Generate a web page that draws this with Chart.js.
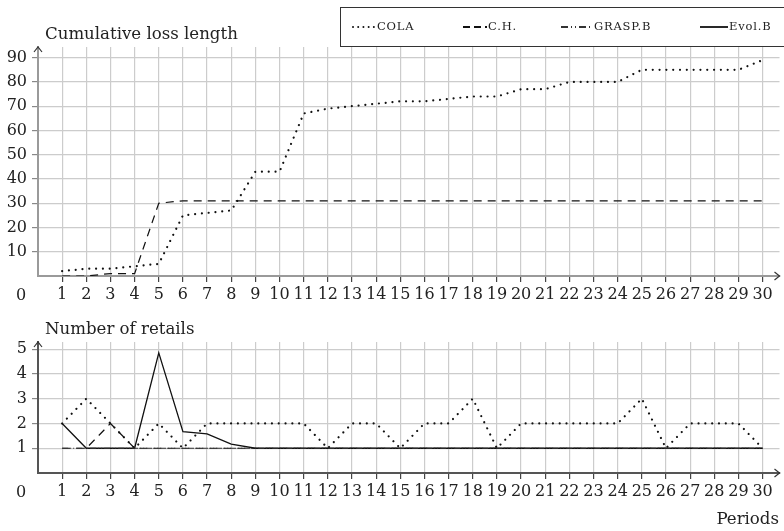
<!DOCTYPE html>
<html>
<head>
<meta charset="utf-8">
<script src="https://cdn.jsdelivr.net/npm/chart.js@4/dist/chart.umd.min.js"></script>
<style>
  body { margin: 0; background: #fff; }
  #top, #bottom { position: absolute; left: 0; width: 784px; }
  #top { top: 0; height: 310px; }
  #bottom { top: 310px; height: 221px; }
</style>
</head>
<body>
<div id="top"><canvas id="lossChart" width="784" height="310"></canvas></div>
<div id="bottom"><canvas id="retailChart" width="784" height="221"></canvas></div>
<script>
// --- data ---
const periods = [1,2,3,4,5,6,7,8,9,10,11,12,13,14,15,16,17,18,19,20,21,22,23,24,25,26,27,28,29,30];
const seriesNames = ["COLA", "C.H.", "GRASP.B", "Evol.B"];

const colaLoss = [2,3,3,4,5,25,26,27,43,43,67,69,70,71,72,72,73,74,74,77,77,80,80,80,85,85,85,85,85,89];
const chLoss   = [0,0,1,1,30,31,31,31,31,31,31,31,31,31,31,31,31,31,31,31,31,31,31,31,31,31,31,31,31,31];

const colaRetails  = [2,3,2,1,2,1,2,2,2,2,2,1,2,2,1,2,2,3,1,2,2,2,2,2,3,1,2,2,2,1];
const chRetails    = [1,1,2,1,1,1,1,1,1,1,1,1,1,1,1,1,1,1,1,1,1,1,1,1,1,1,1,1,1,1];
const graspRetails = [1,1,1,1,1,1,1,1,1,1,1,1,1,1,1,1,1,1,1,1,1,1,1,1,1,1,1,1,1,1];
const evolRetails  = [2,1,1,1,4.85,1.67,1.58,1.17,1,1,1,1,1,1,1,1,1,1,1,1,1,1,1,1,1,1,1,1,1,1];

const lossTicks = [10,20,30,40,50,60,70,80,90];
const retailTicks = [1,2,3,4,5];

// --- styles ---
const FONT = "DejaVu Serif";
const TXT = "#222";
const GRID = "#cccccc";
const styles = {
  "COLA":    { borderColor: "#111", borderWidth: 2.2, borderDash: [0.01, 6.8], borderCapStyle: "round" },
  "C.H.":    { borderColor: "#111", borderWidth: 1.2, borderDash: [8, 6] },
  "GRASP.B": { borderColor: "#333", borderWidth: 1.1, borderDash: [6, 2, 1, 2, 1, 2] },
  "Evol.B":  { borderColor: "#111", borderWidth: 1.3, borderDash: [] }
};

const pts = vals => vals.map((v, i) => ({ x: periods[i], y: v }));
const ds = (name, vals) => Object.assign({ label: name, data: pts(vals), pointRadius: 0, tension: 0, fill: false }, styles[name]);

// ejes con flecha, el "0" en la esquina y los titulos
function decorPlugin(title, showPeriods) {
  return {
    id: "decor",
    afterDraw(chart) {
      const c = chart.ctx, a = chart.chartArea;
      c.save();
      c.strokeStyle = "#333"; c.lineWidth = 1.2; c.setLineDash([]);
      // flecha x
      c.beginPath();
      c.moveTo(a.right - 5, a.bottom - 4); c.lineTo(a.right, a.bottom); c.lineTo(a.right - 5, a.bottom + 4);
      c.stroke();
      // flecha y
      c.beginPath();
      c.moveTo(a.left - 4, a.top + 5); c.lineTo(a.left, a.top); c.lineTo(a.left + 4, a.top + 5);
      c.stroke();
      c.fillStyle = TXT;
      c.font = "16px '" + FONT + "'";
      c.textAlign = "center"; c.textBaseline = "middle";
      c.fillText("0", 21, a.bottom + 19.5);
      c.font = "16.6px '" + FONT + "'";
      c.textAlign = "left";
      c.fillText(title, 45, a.top - 12);
      if (showPeriods) {
        c.textAlign = "right";
        c.fillText("Periods", 779, a.bottom + 47);
      }
      c.restore();
    }
  };
}

const legendPlugin = {
  id: "boxLegend",
  afterDraw(chart) {
    const c = chart.ctx;
    c.save();
    c.strokeStyle = "#333"; c.lineWidth = 1; c.setLineDash([]);
    c.strokeRect(340.5, 7.5, 460, 39);
    const xs = [[353, 376], [463, 487], [561, 593], [700, 728]];
    c.font = "11.5px '" + FONT + "'";
    c.letterSpacing = "0.8px";
    c.fillStyle = TXT; c.textBaseline = "middle"; c.textAlign = "left";
    seriesNames.forEach((name, i) => {
      const s = styles[name];
      c.beginPath();
      c.strokeStyle = s.borderColor;
      c.lineWidth = name === "COLA" ? 2 : 1.8;
      c.lineCap = s.borderCapStyle || "butt";
      c.setLineDash(name === "COLA" ? [0.01, 5.2] : name === "C.H." ? [7, 4] : name === "GRASP.B" ? [7, 3, 1, 3, 1, 3] : []);
      c.moveTo(xs[i][0], 27); c.lineTo(xs[i][1], 27);
      c.stroke();
      c.fillText(name, xs[i][1] + 1, 27.5);
    });
    c.restore();
  }
};

function makeOptions(yMax, yTicks, padTop, xHeight, axisColor) {
  return {
    responsive: false,
    animation: false,
    layout: { padding: { top: padTop, right: 4.5, left: 0, bottom: 0 } },
    plugins: { legend: { display: false }, tooltip: { enabled: false } },
    scales: {
      x: {
        type: "linear", min: 0, max: 30.7,
        afterBuildTicks: s => { s.ticks = periods.map(v => ({ value: v })); },
        afterFit: s => { s.height = xHeight; },
        grid: { color: GRID, lineWidth: 1.2, tickColor: "#444", tickLength: 6 },
        border: { display: true, color: axisColor, width: 2 },
        ticks: { color: TXT, font: { family: FONT, size: 16 }, padding: 3, maxRotation: 0, autoSkip: false }
      },
      y: {
        min: 0, max: yMax,
        afterBuildTicks: s => { s.ticks = yTicks.map(v => ({ value: v })); },
        afterFit: s => { s.width = 38; },
        grid: { color: GRID, lineWidth: 1.2, tickColor: "#888", tickLength: 6 },
        border: { display: true, color: axisColor, width: 2 },
        ticks: { color: TXT, font: { family: FONT, size: 16 }, padding: 5 }
      }
    }
  };
}

new Chart(document.getElementById("lossChart"), {
  type: "line",
  data: { datasets: [ds("COLA", colaLoss), ds("C.H.", chLoss)] },
  options: makeOptions(94.4, lossTicks, 47, 34, "#9a9a9a"),
  plugins: [decorPlugin("Cumulative loss length", false), legendPlugin]
});

new Chart(document.getElementById("retailChart"), {
  type: "line",
  data: {
    datasets: [
      ds("GRASP.B", graspRetails),
      ds("C.H.", chRetails),
      ds("Evol.B", evolRetails),
      ds("COLA", colaRetails)
    ]
  },
  options: makeOptions(5.29, retailTicks, 32, 58, "#555"),
  plugins: [decorPlugin("Number of retails", true)]
});
</script>
</body>
</html>
